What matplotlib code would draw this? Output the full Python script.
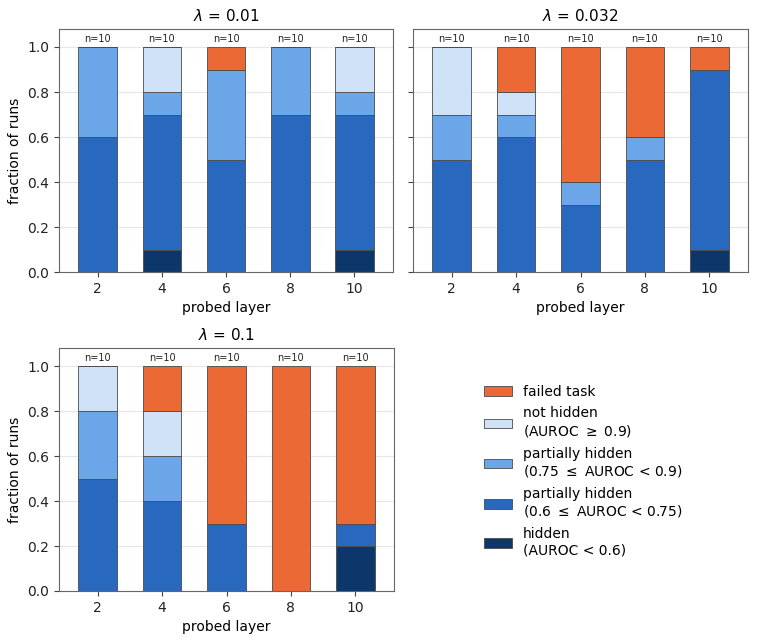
import numpy as np
import matplotlib
matplotlib.use("Agg")
import matplotlib.pyplot as plt

layers = [2, 4, 6, 8, 10]
lambdas = ["0.01", "0.032", "0.1"]

# fractions per layer, bottom to top
hidden = {
    "0.01": [0.0, 0.1, 0.0, 0.0, 0.1],
    "0.032": [0.0, 0.0, 0.0, 0.0, 0.1],
    "0.1": [0.0, 0.0, 0.0, 0.0, 0.2],
}
partial_low = {
    "0.01": [0.6, 0.6, 0.5, 0.7, 0.6],
    "0.032": [0.5, 0.6, 0.3, 0.5, 0.8],
    "0.1": [0.5, 0.4, 0.3, 0.0, 0.1],
}
partial_high = {
    "0.01": [0.4, 0.1, 0.4, 0.3, 0.1],
    "0.032": [0.2, 0.1, 0.1, 0.1, 0.0],
    "0.1": [0.3, 0.2, 0.0, 0.0, 0.0],
}
not_hidden = {
    "0.01": [0.0, 0.2, 0.0, 0.0, 0.2],
    "0.032": [0.3, 0.1, 0.0, 0.0, 0.0],
    "0.1": [0.2, 0.2, 0.0, 0.0, 0.0],
}
failed = {
    "0.01": [0.0, 0.0, 0.1, 0.0, 0.0],
    "0.032": [0.0, 0.2, 0.6, 0.4, 0.1],
    "0.1": [0.0, 0.2, 0.7, 1.0, 0.7],
}
n_runs = [10, 10, 10, 10, 10]

labels = [
    "hidden\n(AUROC < 0.6)",
    "partially hidden\n(0.6 $\\leq$ AUROC < 0.75)",
    "partially hidden\n(0.75 $\\leq$ AUROC < 0.9)",
    "not hidden\n(AUROC $\\geq$ 0.9)",
    "failed task",
]
colors = ["#0d366b", "#2868bf", "#6ba6e8", "#cfe2f8", "#ea6935"]

W, H = 758, 642
fig = plt.figure(figsize=(W / 100, H / 100), dpi=100)

def box(l, t, r, b):
    return [l / W, 1 - b / H, (r - l) / W, (b - t) / H]

ax1 = fig.add_axes(box(59, 29, 393, 272))
ax2 = fig.add_axes(box(413, 29, 748, 272), sharey=ax1)
ax3 = fig.add_axes(box(59, 348, 394, 591))

handles = []
for ax, lam in zip([ax1, ax2, ax3], lambdas):
    series = [hidden[lam], partial_low[lam], partial_high[lam], not_hidden[lam], failed[lam]]
    bottom = np.zeros(len(layers))
    for vals, c, lab in zip(series, colors, labels):
        b = ax.bar(layers, vals, width=1.2, bottom=bottom, color=c,
                   edgecolor="#4a4a4a", linewidth=0.6, label=lab, zorder=2)
        bottom += np.array(vals)
        if ax is ax1:
            handles.append(b)
    for x, n in zip(layers, n_runs):
        ax.text(x, 1.012, f"n={n}", ha="center", va="bottom", fontsize=7, color="#222222")
    ax.set_xlim(0.8, 11.2)
    ax.set_ylim(0, 1.08)
    ax.set_xticks(layers)
    ax.set_yticks([0, 0.2, 0.4, 0.6, 0.8, 1.0])
    ax.grid(axis="y", color="#e6e6e6", linewidth=0.8, zorder=0)
    ax.set_axisbelow(True)
    ax.set_xlabel("probed layer", fontsize=10)
    ax.set_title(f"$\\lambda$ = {lam}", fontsize=11)
    for s in ax.spines.values():
        s.set_color("#666666")
    ax.tick_params(colors="#222222", labelsize=10)
    ax.tick_params(color="#444444")

ax1.set_ylabel("fraction of runs", fontsize=10)
ax3.set_ylabel("fraction of runs", fontsize=10)
plt.setp(ax2.get_yticklabels(), visible=False)

fig.legend(handles[::-1], labels[::-1], loc="upper left", bbox_to_anchor=(0.622, 0.42),
           frameon=False, fontsize=10, handlelength=2.0, labelspacing=0.55)

fig.savefig("out.png", dpi=100)
